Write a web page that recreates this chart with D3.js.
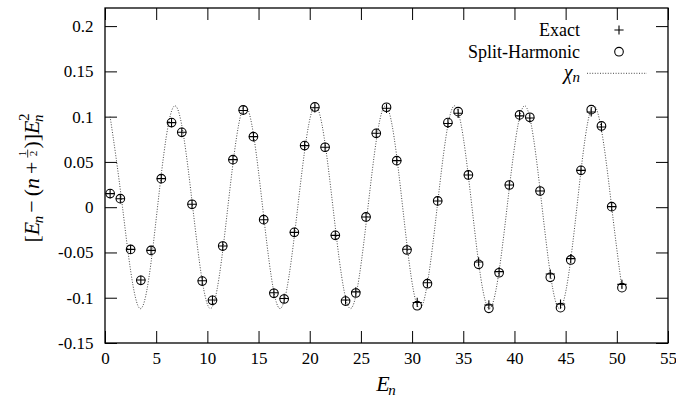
<!DOCTYPE html>
<html>
<head>
<meta charset="utf-8">
<script src="https://d3js.org/d3.v7.min.js"></script>
<style>
  body { margin: 0; background: #fff; }
  svg, svg text { font-family: "Liberation Serif", "Times New Roman", "DejaVu Serif", serif !important; }
  svg text { fill: #000; }
</style>
</head>
<body>
<svg id="chart" width="676" height="403"></svg>
<script>
/*Chart data*/
var energies = [0.5, 1.5, 2.5, 3.5, 4.5, 5.5, 6.5, 7.5, 8.5, 9.5,
  10.5, 11.5, 12.5, 13.5, 14.5, 15.5, 16.5, 17.5, 18.5, 19.5,
  20.5, 21.5, 22.5, 23.5, 24.5, 25.5, 26.5, 27.5, 28.5, 29.5,
  30.5, 31.5, 32.5, 33.5, 34.5, 35.5, 36.5, 37.5, 38.5, 39.5,
  40.5, 41.5, 42.5, 43.5, 44.5, 45.5, 46.5, 47.5, 48.5, 49.5, 50.5];

var exactValues = [0.015, 0.0094, -0.0466, -0.0805, -0.0477, 0.0315, 0.0934, 0.0827, 0.0032, -0.0812,
  -0.1025, -0.0429, 0.0525, 0.1068, 0.0779, -0.0138, -0.0945, -0.1008, -0.0278, 0.068,
  0.1098, 0.0662, -0.0311, -0.1025, -0.0935, -0.0108, 0.0816, 0.1092, 0.0514, -0.0465,
  -0.1052, -0.0835, 0.0069, 0.0925, 0.1037, 0.0356, -0.0605, -0.108, -0.0712, 0.0245,
  0.1008, 0.0985, 0.0179, -0.0738, -0.107, -0.0568, 0.0407, 0.1052, 0.0885, 0.0006, -0.0852];

var splitHarmonicValues = [0.015, 0.0094, -0.0466, -0.0808, -0.0477, 0.0315, 0.0934, 0.0827, 0.0032, -0.0816,
  -0.1029, -0.0429, 0.0525, 0.1074, 0.0779, -0.0138, -0.0951, -0.1014, -0.0278, 0.068,
  0.1107, 0.0662, -0.0311, -0.1037, -0.0948, -0.0108, 0.0816, 0.1104, 0.0514, -0.0473,
  -0.1088, -0.0845, 0.0069, 0.0934, 0.1055, 0.0356, -0.0631, -0.1117, -0.0724, 0.0245,
  0.1019, 0.0993, 0.0179, -0.0775, -0.111, -0.0583, 0.0407, 0.1077, 0.0897, 0.0006, -0.0889];

/*chi_n curve: start, zero crossings and extrema*/
var chiEnergies = [0.5, 1.71, 3.42, 5.13, 6.84, 8.57, 10.3, 12.0, 13.7, 15.4,
  17.1, 18.83, 20.55, 22.27, 23.98, 25.69, 27.4, 29.08, 30.75, 32.45,
  34.15, 35.85, 37.55, 39.28, 41.0, 42.7, 44.4, 46.1, 47.8, 49.5, 50.5];
var chiValues = [0.1, 0, -0.112, 0, 0.112, 0, -0.112, 0, 0.112, 0,
  -0.112, 0, 0.112, 0, -0.112, 0, 0.112, 0, -0.112, 0,
  0.112, 0, -0.112, 0, 0.112, 0, -0.112, 0, 0.112, 0, -0.089];

var xTicks = [0, 5, 10, 15, 20, 25, 30, 35, 40, 45, 50, 55];
var yTicks = [-0.15, -0.1, -0.05, 0, 0.05, 0.1, 0.15, 0.2];
var yTickLabels = ["-0.15", "-0.1", "-0.05", "0", "0.05", "0.1", "0.15", "0.2"];

var serif = "'Liberation Serif', 'Times New Roman', 'DejaVu Serif', serif";

/*Layout*/
var svg = d3.select("#chart"),
    width = +svg.attr("width"),
    height = +svg.attr("height");
svg.attr("font-family", serif);
var margin = {top: 8, right: 8, bottom: 60, left: 105};
var plotW = width - margin.left - margin.right,
    plotH = height - margin.top - margin.bottom;

var x = d3.scaleLinear().domain([0, 55]).range([margin.left, margin.left + plotW]);
var y = d3.scaleLinear().domain([-0.15, 0.22]).range([margin.top + plotH, margin.top]);

var tickLen = 12;

/*Axes, gnuplot style: inward ticks mirrored on all sides*/
var xAxis = svg.append("g")
    .attr("transform", "translate(0," + (margin.top + plotH) + ")")
    .call(d3.axisBottom(x).tickValues(xTicks).tickSize(-tickLen).tickSizeOuter(0).tickPadding(8.5));
var yAxis = svg.append("g")
    .attr("transform", "translate(" + margin.left + ",0)")
    .call(d3.axisLeft(y).tickValues(yTicks).tickSize(-tickLen).tickSizeOuter(0).tickPadding(11.5)
      .tickFormat(function(d, i) { return yTickLabels[i]; }));
var xTop = svg.append("g")
    .attr("transform", "translate(0," + margin.top + ")")
    .call(d3.axisTop(x).tickValues(xTicks).tickSize(-tickLen).tickSizeOuter(0).tickFormat(""));
var yRight = svg.append("g")
    .attr("transform", "translate(" + (margin.left + plotW) + ",0)")
    .call(d3.axisRight(y).tickValues(yTicks).tickSize(-tickLen).tickSizeOuter(0).tickFormat(""));

[xAxis, yAxis, xTop, yRight].forEach(function(a) {
  a.attr("font-family", serif).attr("font-size", 17);
  a.select(".domain").remove();
  a.selectAll(".tick line").attr("stroke", "#000").attr("stroke-width", 1);
  a.selectAll(".tick text")
    .attr("font-family", serif)
    .attr("fill", "#000");
});

svg.append("rect")
  .attr("x", margin.left)
  .attr("y", margin.top)
  .attr("width", plotW)
  .attr("height", plotH)
  .attr("fill", "none")
  .attr("stroke", "#000")
  .attr("stroke-width", 1.3);

/*chi_n dotted curve*/
var chiPoints = chiEnergies.map(function(e, i) { return [e, chiValues[i]]; });
var chiLine = d3.line()
  .x(function(d) { return x(d[0]); })
  .y(function(d) { return y(d[1]); })
  .curve(d3.curveNatural);

svg.append("path")
  .datum(chiPoints)
  .attr("d", chiLine)
  .attr("fill", "none")
  .attr("stroke", "#333")
  .attr("stroke-width", 0.9)
  .attr("stroke-dasharray", "1,1.6");

/*Split-Harmonic circles*/
var markR = 4.3;
svg.append("g").selectAll("circle")
  .data(splitHarmonicValues)
  .enter().append("circle")
  .attr("cx", function(d, i) { return x(energies[i]); })
  .attr("cy", function(d) { return y(d); })
  .attr("r", markR)
  .attr("fill", "none")
  .attr("stroke", "#000")
  .attr("stroke-width", 1.1);

/*Exact plus marks*/
var plusHalf = 4.6;
function plusPath(cx, cy) {
  return "M" + (cx - plusHalf) + "," + cy + "H" + (cx + plusHalf) +
         "M" + cx + "," + (cy - plusHalf) + "V" + (cy + plusHalf);
}
svg.append("g").selectAll("path")
  .data(exactValues)
  .enter().append("path")
  .attr("d", function(d, i) { return plusPath(x(energies[i]), y(d)); })
  .attr("fill", "none")
  .attr("stroke", "#000")
  .attr("stroke-width", 1.1);

/*Text helpers*/
function addPiece(g, px, py, str, size, italic) {
  var t = g.append("text")
    .attr("x", px)
    .attr("y", py)
    .attr("font-family", serif)
    .attr("font-size", size)
    .attr("font-style", italic ? "italic" : "normal")
    .text(str);
  return px + t.node().getComputedTextLength();
}

/*Legend*/
var legendRight = 580, markX = 619, lineX0 = 587, lineX1 = 647;
var rows = [30, 51.7, 73.3];
svg.append("text")
  .attr("x", legendRight).attr("y", rows[0] + 6)
  .attr("text-anchor", "end")
  .attr("font-family", serif).attr("font-size", 18)
  .text("Exact");
svg.append("path")
  .attr("d", plusPath(markX, rows[0]))
  .attr("stroke", "#000").attr("stroke-width", 1.1);
svg.append("text")
  .attr("x", legendRight).attr("y", rows[1] + 6)
  .attr("text-anchor", "end")
  .attr("font-family", serif).attr("font-size", 18)
  .text("Split-Harmonic");
svg.append("circle")
  .attr("cx", markX).attr("cy", rows[1]).attr("r", markR)
  .attr("fill", "none").attr("stroke", "#000").attr("stroke-width", 1.1);

var chiLabel = svg.append("g");
var cx0 = addPiece(chiLabel, 0, rows[2] + 5.5, "\u03c7", 20, true);
var cx1 = addPiece(chiLabel, cx0, rows[2] + 9, "n", 15, true);
chiLabel.attr("transform", "translate(" + (legendRight - cx1) + ",0)");
svg.append("line")
  .attr("x1", lineX0).attr("x2", lineX1)
  .attr("y1", rows[2]).attr("y2", rows[2])
  .attr("stroke", "#333").attr("stroke-width", 0.9)
  .attr("stroke-dasharray", "1,1.6");

/*X axis title*/
var xt = svg.append("g");
var xe = addPiece(xt, 0, 391, "E", 22, true);
var xn = addPiece(xt, xe - 1.5, 395, "n", 15, true);
xt.attr("transform", "translate(" + (386 - xn / 2) + ",0)");

/*Y axis title: [E_n - (n + 1/2)]E_n^2 */
var yt = svg.append("g");
var base = 0, fs = 22, sub = 15;
var cur = addPiece(yt, 0, base, "[", fs, false);
cur = addPiece(yt, cur, base, "E", fs, true);
cur = addPiece(yt, cur - 1.5, base + 4, "n", sub, true);
cur = addPiece(yt, cur + 3, base, "\u2212", fs, false);
cur = addPiece(yt, cur + 4, base, "(", fs, false);
cur = addPiece(yt, cur, base, "n", fs, true);
cur = addPiece(yt, cur + 4, base, "+", fs, false);
cur += 4;
var fracW = 8;
yt.append("text").attr("x", cur + fracW / 2).attr("y", base - 13)
  .attr("text-anchor", "middle").attr("font-size", 11).text("1");
yt.append("line").attr("x1", cur).attr("x2", cur + fracW)
  .attr("y1", base - 11.3).attr("y2", base - 11.3)
  .attr("stroke", "#000").attr("stroke-width", 0.8);
yt.append("text").attr("x", cur + fracW / 2).attr("y", base - 2.5)
  .attr("text-anchor", "middle").attr("font-size", 11).text("2");
cur = addPiece(yt, cur + fracW + 1, base, ")]", fs, false);
cur = addPiece(yt, cur, base, "E", fs, true);
var supX = cur;
addPiece(yt, supX - 0.5, base - 10, "2", sub, false);
cur = addPiece(yt, supX - 1.5, base + 4, "n", sub, true);
yt.attr("transform", "translate(39,178.5) rotate(-90) translate(" + (-cur / 2) + ",0)");
</script>
</body>
</html>
